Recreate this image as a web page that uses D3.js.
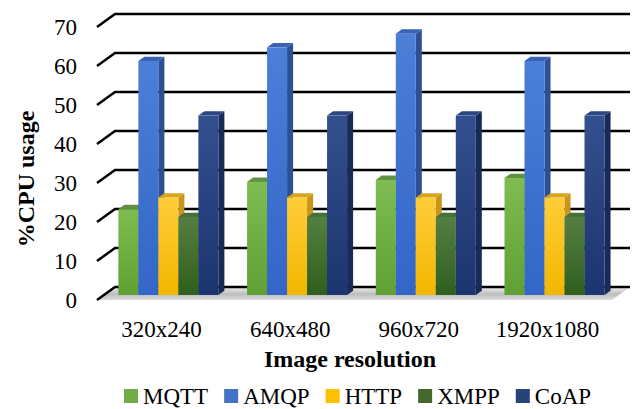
<!DOCTYPE html>
<html>
<head>
<meta charset="utf-8">
<script src="https://cdn.jsdelivr.net/npm/d3@7/dist/d3.min.js"></script>
<style>
  html, body { margin: 0; padding: 0; background: #fff; }
  svg { display: block; font-family: "Liberation Serif", "Times New Roman", serif; }
</style>
</head>
<body>
<svg id="chart" width="642" height="409"></svg>
<script>
// Image resolutions on the x axis
const categories = ["320x240", "640x480", "960x720", "1920x1080"];
// Protocols, one bar each per resolution
const seriesNames = ["MQTT", "AMQP", "HTTP", "XMPP", "CoAP"];
// %CPU usage per protocol
const mqtt = [22, 29, 29.5, 30];
const amqp = [60, 63.5, 67, 60];
const http = [25, 25, 25, 25];
const xmpp = [20, 20, 20, 20];
const coap = [46, 46, 46, 46];
const yTicks = [0, 10, 20, 30, 40, 50, 60, 70];

const seriesValues = [mqtt, amqp, http, xmpp, coap];

// front colour (top, bottom), side and top face colours
const palette = {
  MQTT: { top: "#7fbd52", bottom: "#5f9f33", side: "#4c7f2b", cap: "#5f9140" },
  AMQP: { top: "#4c7fd8", bottom: "#3366c6", side: "#2d4f93", cap: "#3a63b4" },
  HTTP: { top: "#ffcd3a", bottom: "#f2b700", side: "#c8961a", cap: "#d9a521" },
  XMPP: { top: "#557f40", bottom: "#2f5e1d", side: "#284d1a", cap: "#45703a" },
  CoAP: { top: "#33508e", bottom: "#1c346f", side: "#172a58", cap: "#2b4683" }
};
const legendColors = { MQTT: "#70ad47", AMQP: "#4472c4", HTTP: "#ffc000", XMPP: "#43682b", CoAP: "#264478" };

const svg = d3.select("#chart");
const defs = svg.append("defs");

// oblique depth vector for the full floor depth
const DX = 18, DY = -13;
// bars occupy this slice of the depth
const F1 = 0.385, F2 = 0.72;

const x0 = d3.scaleBand().domain(categories).range([97, 612]).paddingInner(0.223).paddingOuter(0.112);
const x1 = d3.scaleBand().domain(seriesNames).range([0, x0.bandwidth()]);
const y = d3.scaleLinear().domain([0, 70]).range([300, 27]);

const proj = (xf, v, f) => [xf + DX * f, y(v) + DY * f];
const poly = pts => pts.map(p => p.join(",")).join(" ");

// gradients for bar fronts
seriesNames.forEach((s, i) => {
  const g = defs.append("linearGradient").attr("id", "g" + i)
    .attr("x1", 0).attr("y1", 0).attr("x2", 0).attr("y2", 1);
  g.append("stop").attr("offset", "0%").attr("stop-color", palette[s].top);
  g.append("stop").attr("offset", "100%").attr("stop-color", palette[s].bottom);
});
const fg = defs.append("linearGradient").attr("id", "floor")
  .attr("x1", 0).attr("y1", 0).attr("x2", 0).attr("y2", 1);
fg.append("stop").attr("offset", "0%").attr("stop-color", "#eeeeee");
fg.append("stop").attr("offset", "55%").attr("stop-color", "#bdbdbd");
fg.append("stop").attr("offset", "100%").attr("stop-color", "#dddddd");

const [xL, xR] = x0.range();

// floor
svg.append("polygon")
  .attr("points", poly([proj(xL, 0, 0), proj(xR, 0, 0), proj(xR, 0, 1), proj(xL, 0, 1)]))
  .attr("fill", "url(#floor)");

// gridlines on the back wall with the diagonal on the left side
const grid = svg.append("g").attr("stroke", "#000").attr("stroke-width", 2.5).attr("fill", "none");
yTicks.forEach(t => {
  const a = proj(xL, t, 0), b = proj(xL, t, 1), c = proj(xR, t, 1);
  grid.append("polyline").attr("points", poly([a, b, c]));
});

// tick labels
svg.append("g").selectAll("text").data(yTicks).join("text")
  .attr("x", 77).attr("y", d => y(d))
  .attr("dy", "0.35em")
  .attr("text-anchor", "end")
  .attr("font-size", 23)
  .attr("fill", "#000")
  .text(d => d);

// bars: side, top and front faces, drawn left to right
const bars = svg.append("g");
categories.forEach((cat, ci) => {
  seriesNames.forEach((s, si) => {
    const v = seriesValues[si][ci];
    const xa = x0(cat) + x1(s), xb = xa + x1.bandwidth();
    const g = bars.append("g");
    // right side face
    g.append("polygon")
      .attr("points", poly([proj(xb, 0, F1), proj(xb, 0, F2), proj(xb, v, F2), proj(xb, v, F1)]))
      .attr("fill", palette[s].side);
    // top face
    g.append("polygon")
      .attr("points", poly([proj(xa, v, F1), proj(xb, v, F1), proj(xb, v, F2), proj(xa, v, F2)]))
      .attr("fill", palette[s].cap);
    // front face
    const p0 = proj(xa, v, F1), p1 = proj(xb, 0, F1);
    g.append("rect")
      .attr("x", p0[0]).attr("y", p0[1])
      .attr("width", p1[0] - p0[0]).attr("height", p1[1] - p0[1])
      .attr("fill", `url(#g${si})`);
  });
});

// category labels
svg.append("g").selectAll("text").data(categories).join("text")
  .attr("x", d => x0(d) + x0.bandwidth() / 2)
  .attr("y", 337)
  .attr("text-anchor", "middle")
  .attr("font-size", 23)
  .attr("fill", "#000")
  .text(d => d);

// axis titles
svg.append("text")
  .attr("x", 350).attr("y", 367)
  .attr("text-anchor", "middle")
  .attr("font-size", 24).attr("font-weight", "bold")
  .text("Image resolution");

svg.append("text")
  .attr("transform", "translate(34,179) rotate(-90)")
  .attr("text-anchor", "middle")
  .attr("font-size", 24).attr("font-weight", "bold")
  .text("%CPU usage");

// legend
const legend = svg.append("g").attr("transform", "translate(124,0)");
let lx = 0;
seriesNames.forEach(s => {
  const item = legend.append("g").attr("transform", `translate(${lx},0)`);
  item.append("rect").attr("x", 0).attr("y", 389).attr("width", 14).attr("height", 14)
    .attr("fill", legendColors[s]);
  const t = item.append("text").attr("x", 19).attr("y", 404)
    .attr("font-size", 23).attr("fill", "#000").text(s);
  lx += 19 + t.node().getComputedTextLength() + 16;
});
</script>
</body>
</html>
